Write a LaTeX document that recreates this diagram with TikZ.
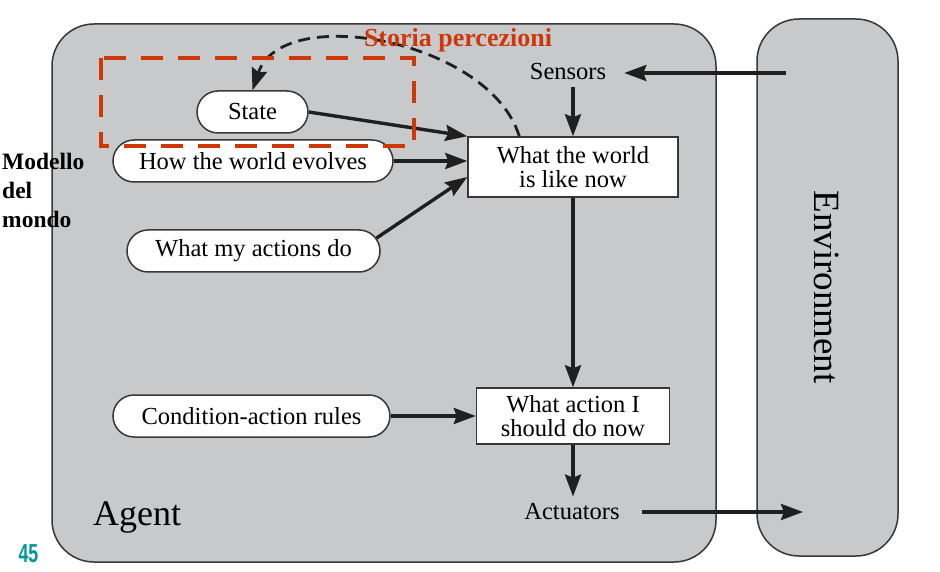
\documentclass[tikz,border=0pt]{standalone}
\usepackage{fontspec}
\usepackage{graphicx}
\setmainfont{Liberation Serif}
\newfontfamily\pagenumfont{Liberation Sans}
\usetikzlibrary{arrows.meta,shapes.misc,calc}
\definecolor{panelgray}{RGB}{200,201,203}
\definecolor{edgegray}{RGB}{55,55,55}
\definecolor{storiared}{RGB}{206,56,8}
\definecolor{pageteal}{RGB}{0,150,158}
\begin{document}
\begin{tikzpicture}[x=1pt,y=-1pt,
  panel/.style={draw=edgegray,line width=1.5pt,fill=panelgray,rounded corners=42pt},
  pill/.style={draw=edgegray,line width=1.5pt,fill=white,rounded rectangle,minimum height=42pt,inner sep=0pt,font=\fontsize{24.5}{24}\selectfont},
  databox/.style={draw=edgegray,line width=1.5pt,fill=white,inner sep=0pt,align=center,font=\fontsize{24.5}{24}\selectfont},
  plaintext/.style={inner sep=0pt,font=\fontsize{24.5}{24}\selectfont},
  flow/.style={line width=3.4pt,black!88,-{Stealth[length=22pt,width=16pt,inset=3pt]}}]
\useasboundingbox (0,0) rectangle (940,572);
\fill[white] (0,0) rectangle (940,572);
\draw [panel] (52,24) rectangle (716,562);
\draw [panel] (757,19) rectangle (898,556);
\node [pill,minimum width=111pt] (state) at (252.5,112) {State};
\node [pill,minimum width=280pt] (evolves) at (253,161) {How the world evolves};
\node [pill,minimum width=253pt] (actions) at (253.5,251) {What my actions do};
\node [pill,minimum width=277pt] (rules) at (251.5,416) {Condition-action rules};
\node [databox,minimum width=210pt,minimum height=60pt] (world) at (573,167) {What the world\\is like now};
\node [databox,minimum width=193pt,minimum height=56pt] (decide) at (573,416) {What action I\\should do now};
\node [plaintext] (sensors) at (568,72) {Sensors};
\node [plaintext] (actuators) at (572,512) {Actuators};
\node [plaintext,anchor=base west,font=\fontsize{36}{36}\selectfont] (agent) at (93,525) {Agent};
\node [plaintext,rotate=-90,font=\fontsize{37}{37}\selectfont] (env) at (826.5,287) {Environment};
\coordinate (envin) at (786,73);
\coordinate (envout) at (803,512);
\draw [flow,shorten >=18pt] (envin) -- (envin -| sensors.east);
\draw [flow,shorten <=7pt] (sensors.south -| world.north) -- (world.north);
\draw [flow] (state.east) -- (world.north west);
\draw [flow] (evolves.east) -- (evolves.east -| world.west);
\draw [flow] (actions.6) -- ([yshift=-10pt]world.west);
\draw [flow] (world.south) -- (decide.north);
\draw [flow] (rules.east) -- (rules.east -| decide.west);
\draw [flow,shorten >=7pt] (decide.south) -- (decide.south |- actuators.north);
\draw [flow,shorten <=22pt] (actuators.east) -- (envout);
\draw [line width=2.8pt,black!88,dash pattern=on 12pt off 7pt,-{Stealth[length=22pt,width=16pt,inset=3pt]}]
  ($(world.north west)+(52,0)$) .. controls (490,40) and (282,2) .. (state.north);
\draw [storiared,line width=4pt,dash pattern=on 22pt off 15pt] (101,58) rectangle (414,146);
\node [plaintext,storiared,font=\bfseries\fontsize{26}{26}\selectfont] (storia) at (458,40) {Storia percezioni};
\node [plaintext,anchor=north west,align=left,font=\bfseries\fontsize{23.5}{29}\selectfont] (modello) at (2,153) {Modello\\del\\mondo};
\node [plaintext,pageteal,font=\pagenumfont\bfseries\fontsize{26}{26}\selectfont] (pagenum) at (28.5,554) {\scalebox{0.68}[1]{45}};
\end{tikzpicture}
\end{document}
